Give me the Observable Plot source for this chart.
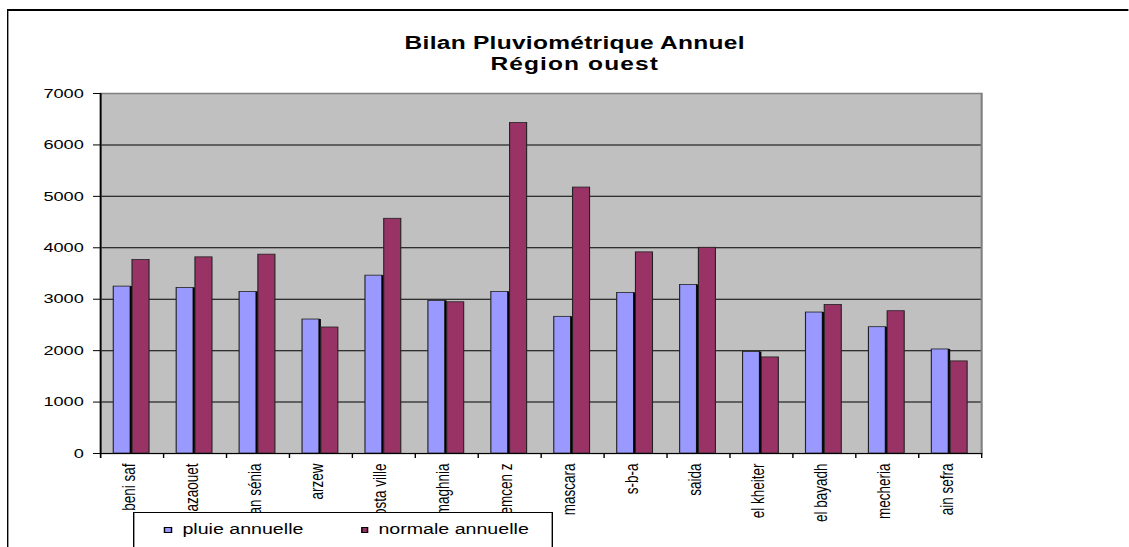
<!DOCTYPE html>
<html>
<head>
<meta charset="utf-8">
<script src="https://cdn.jsdelivr.net/npm/d3@7"></script>
<script src="https://cdn.jsdelivr.net/npm/@observablehq/plot@0.6"></script>
<style>
  html, body { margin: 0; padding: 0; background: #fff; overflow: hidden; }
  /* the whole sheet is drawn narrow, then widened horizontally */
  #page {
    position: relative; width: 806px; height: 547px; overflow: hidden;
    transform: scaleX(1.4); transform-origin: 0 0;
    font-family: "Liberation Sans", Arial, sans-serif; color: #000;
  }
  #frame {
    position: absolute; left: 5px; top: 9px; width: 900px; height: 700px;
    border-top: 2px solid #000; border-left: 1.5px solid #000;
  }
  #title { position: relative; height: 80px; }
  #title div {
    position: absolute; left: 0; width: 821px; text-align: center;
    font-weight: bold; font-size: 17.5px; line-height: 20px; white-space: nowrap;
  }
  #chart { position: relative; }
  #legend {
    position: absolute; left: 95px; top: 512px; width: 300px; height: 60px;
    box-sizing: border-box; border: 1.3px solid #000; background: #fff;
    font-size: 14px; line-height: 16px;
  }
  #legend .sw { position: absolute; top: 13.5px; width: 5.2px; height: 6.8px; box-sizing: border-box; border: 1px solid #000; }
  #legend .lb { position: absolute; top: 8px; white-space: nowrap; }
</style>
</head>
<body>
<div id="page">
  <div id="frame"></div>
  <div id="title">
    <div style="top:33px; letter-spacing:0.2px">Bilan Pluviométrique Annuel</div>
    <div style="top:54px; letter-spacing:0.8px">Région ouest</div>
  </div>
  <div id="chart"></div>
  <div id="legend"></div>
</div>
<script>
// Stations of the western region
const stations = [
  "beni saf", "ghazaouet", "oran sénia", "arzew", "mosta ville", "maghnia", "tlemcen z",
  "mascara", "s-b-a", "saida", "el kheiter", "el bayadh", "mecheria", "ain sefra"
];
// Annual rainfall for the year
const pluie = [3245, 3219, 3142, 2605, 3458, 2967, 3142, 2657, 3122, 3277, 1972, 2741, 2456, 2023];
// Annual normal
const normale = [3762, 3814, 3866, 2450, 4564, 2941, 6425, 5171, 3911, 4000, 1868, 2889, 2767, 1791];
const yTicks = [0, 1000, 2000, 3000, 4000, 5000, 6000, 7000];
const seriesNames = ["pluie annuelle", "normale annuelle"];
const seriesColors = ["#9999ff", "#993366"];

const rows = stations.map((s, i) => ({station: s, pluie: pluie[i], normale: normale[i]}));

const width = 806, height = 467;
const marginLeft = 71.4, marginRight = 105.3, marginTop = 13, marginBottom = 94;
const bw = (width - marginLeft - marginRight) / stations.length;

const chart = Plot.plot({
  width, height, marginLeft, marginRight, marginTop, marginBottom,
  style: {fontFamily: "Liberation Sans, Arial, sans-serif", fontSize: "13px", color: "#000", background: "transparent", overflow: "visible"},
  x: {type: "band", domain: stations, padding: 0, round: false, axis: null, label: null},
  y: {domain: [0, 7000], axis: null, label: null},
  marks: [
    Plot.frame({fill: "#c0c0c0"}),
    Plot.gridY(yTicks.slice(1, -1), {stroke: "#000", strokeOpacity: 1, strokeWidth: 1}),
    Plot.frame({stroke: "#808080", strokeWidth: 1.5}),
    // rainfall bars with their dark edge, then the normals
    Plot.barY(rows, {x: "station", y: "pluie", fill: seriesColors[0], stroke: "#222", strokeWidth: 0.8, insetLeft: 9.5, insetRight: 23.4}),
    Plot.barY(rows, {x: "station", y: "pluie", fill: "#000", insetLeft: 21.5, insetRight: 22.0}),
    Plot.barY(rows, {x: "station", y: "normale", fill: seriesColors[1], stroke: "#222", strokeWidth: 0.8, insetLeft: 22.9, insetRight: 9.9}),
    // axis lines
    Plot.ruleY([0], {stroke: "#000", strokeWidth: 1.2}),
    Plot.ruleX([stations[0]], {y1: 7000, y2: 0, dx: -bw / 2, insetBottom: -5, stroke: "#000", strokeWidth: 1.2}),
    // category ticks between stations
    Plot.ruleX(stations.slice(1), {y1: 0, y2: 0, dx: -bw / 2, insetBottom: -5, stroke: "#000", strokeWidth: 1}),
    Plot.ruleX([stations[stations.length - 1]], {y1: 0, y2: 0, dx: bw / 2, insetBottom: -5, stroke: "#000", strokeWidth: 1}),
    Plot.axisY({ticks: yTicks, tickFormat: d => String(d), tickSize: 5, tickPadding: 7, fontSize: 13, stroke: "#000", fill: "#000", label: null}),
    Plot.axisX({tickSize: 0, tickPadding: 10, tickRotate: -90, fontSize: 13.5, dx: -2.5, fill: "#000", label: null})
  ]
});
document.getElementById("chart").appendChild(chart);

// legend
const legend = document.getElementById("legend");
const swLeft = [21.4, 162.1], lbLeft = [34.3, 174.3];
seriesNames.forEach((name, i) => {
  const sw = document.createElement("div");
  sw.className = "sw";
  sw.style.left = swLeft[i] + "px";
  sw.style.background = seriesColors[i];
  legend.appendChild(sw);
  const lb = document.createElement("div");
  lb.className = "lb";
  lb.style.left = lbLeft[i] + "px";
  lb.textContent = name;
  legend.appendChild(lb);
});
</script>
</body>
</html>
